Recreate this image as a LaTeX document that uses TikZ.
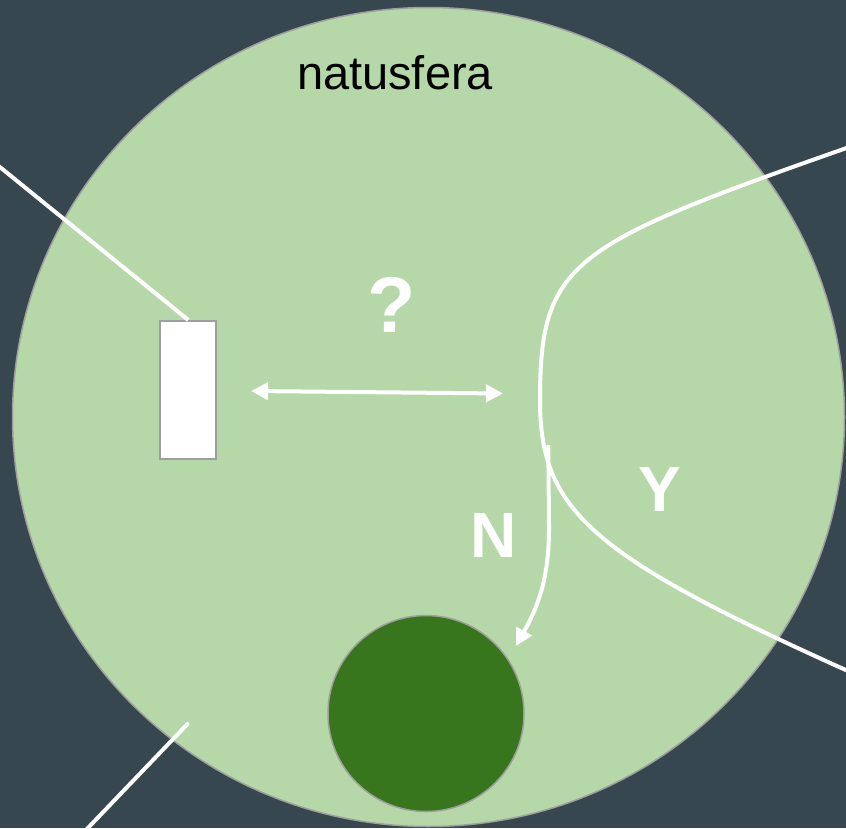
\documentclass[tikz,border=0pt]{standalone}
\usepackage{fontspec}
\setmainfont{Liberation Sans}
\usetikzlibrary{arrows.meta}
\definecolor{bgslate}{HTML}{37474F}
\definecolor{lightgreen}{HTML}{B6D7A8}
\definecolor{darkgreen}{HTML}{38761D}
\definecolor{rimgray}{HTML}{9E9E9E}
\tikzset{
  wline/.style={draw=white, line width=4pt},
  warrow/.style={draw=white, line width=4pt, -{Triangle[length=17pt,width=17pt]}},
  wdarrow/.style={draw=white, line width=4pt, {Triangle[length=17pt,width=17pt]}-{Triangle[length=17pt,width=17pt]}},
  bigtext/.style={text=white, font=\bfseries\fontsize{64}{70}\selectfont, inner sep=0pt, anchor=base},
}
\begin{document}
\begin{tikzpicture}[x=1pt,y=-1pt]
  \fill[bgslate] (0,0) rectangle (846,828);
  \useasboundingbox (0,0) rectangle (846,828);
  % big sphere
  \draw[fill=lightgreen, draw=rimgray, line width=1.5pt] (428.5,417) ellipse [x radius=416, y radius=409.5];
  % title
  \node[inner sep=0pt, anchor=base, font=\fontsize{47}{54}\selectfont] (title) at (395,89) {natusfera};
  % observation rectangle
  \node[draw=rimgray, fill=white, line width=2pt, minimum width=56pt, minimum height=138pt, inner sep=0pt] (obs) at (188.3,390) {};
  % free ends
  \coordinate (lfree) at (-2,165.5);
  \coordinate (blA) at (187.5,724);
  \coordinate (blB) at (86,830);
  \draw[wline] (lfree) -- (obs.north);
  \draw[wline, line cap=round] (blA) -- (blB);
  % question double arrow
  \coordinate (qa) at (251,391);
  \coordinate (qb) at (503,393.5);
  \draw[wdarrow] (qa) -- (qb);
  \node[bigtext, font=\bfseries\fontsize{79}{86}\selectfont] (q) at (391.5,332.7) {?};
  % decision curve
  \coordinate (cTop) at (848,147.5);
  \coordinate (cMid) at (540,400);
  \coordinate (cBot) at (848,671);
  \draw[wline] (cTop) .. controls (570,245) and (540,262) .. (cMid)
                      .. controls (540,510) and (590,555) .. (cBot);
  % N arrow
  \coordinate (nstart) at (548.3,445);
  \coordinate (nend) at (516,646);
  \draw[warrow] (nstart) -- (549,525) .. controls (549.5,580) and (537,608) .. (nend);
  % pool circle
  \node[circle, fill=darkgreen, draw=rimgray, line width=1.5pt, minimum size=196pt, inner sep=0pt] (pool) at (426,713.5) {};
  % labels
  \node[bigtext] (nlab) at (493.5,557.7) {N};
  \node[bigtext] (ylab) at (660,511.7) {Y};
\end{tikzpicture}
\end{document}
